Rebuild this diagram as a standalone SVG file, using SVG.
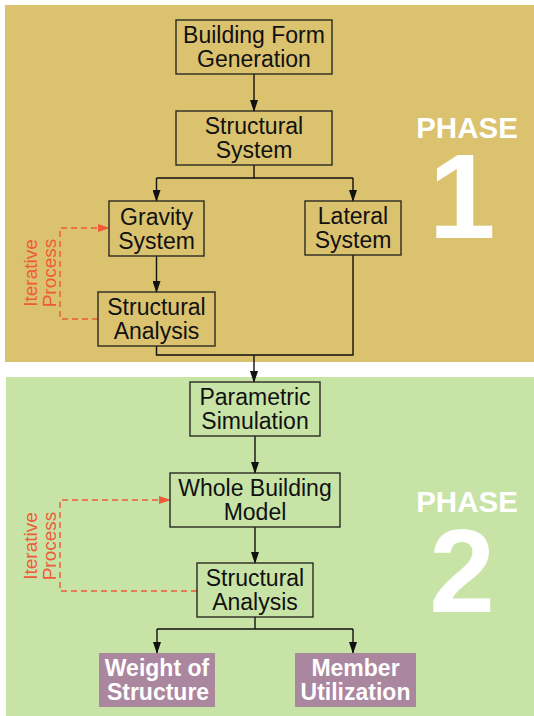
<svg xmlns="http://www.w3.org/2000/svg" width="534" height="716" viewBox="0 0 534 716">
<style>
.box{fill:none;stroke:#2a2a22;stroke-width:1.4}
.out{fill:#AB869F;stroke:none}
.t{font-family:"Liberation Sans",Arial,sans-serif;font-size:23px;fill:#111;text-anchor:middle}
.tw{font-family:"Liberation Sans",Arial,sans-serif;font-size:23px;font-weight:bold;fill:#fff;text-anchor:middle}
.ph{font-family:"Liberation Sans",Arial,sans-serif;font-weight:bold;fill:#fff;text-anchor:middle}
.it{font-family:"Liberation Sans",Arial,sans-serif;font-size:19px;fill:#EE5A3A;text-anchor:middle}
.c{fill:none;stroke:#111;stroke-width:1.4}
.d{fill:none;stroke:#EE5A3A;stroke-width:1.4;stroke-dasharray:6 4}
</style>
<defs>
<marker id="ab" markerWidth="8" markerHeight="12" refX="4" refY="11" orient="0" markerUnits="userSpaceOnUse" viewBox="0 0 8 12">
<path d="M0,0 L8,0 L4,12 Z" fill="#111"/>
</marker>
<marker id="ar" markerWidth="12" markerHeight="8" refX="11" refY="4" orient="0" markerUnits="userSpaceOnUse" viewBox="0 0 12 8">
<path d="M0,0 L12,4 L0,8 Z" fill="#EE5A3A"/>
</marker>
</defs>
<rect x="0" y="0" width="534" height="716" fill="#fff"/>
<rect id="phase1-bg" x="5" y="5" width="529" height="357" fill="#DBC26F"/>
<rect id="phase2-bg" x="6" y="377" width="528" height="339" fill="#C8E3A6"/>

<g id="phase1-label">
<text class="ph" x="467" y="138" font-size="29.5">PHASE</text>
<text class="ph" x="462" y="238" font-size="120">1</text>
</g>
<g id="phase2-label">
<text class="ph" x="467" y="512" font-size="29.5">PHASE</text>
<text class="ph" x="462" y="612" font-size="118">2</text>
</g>

<g id="connectors">
<path class="c" d="M254,74 V111" marker-end="url(#ab)"/>
<path class="c" d="M254,165 V178 M156.5,178 H353"/>
<path class="c" d="M156.5,178 V201" marker-end="url(#ab)"/>
<path class="c" d="M353,178 V201" marker-end="url(#ab)"/>
<path class="c" d="M156.5,256 V292" marker-end="url(#ab)"/>
<path class="c" d="M156.5,346 V355 H353 V255"/>
<path class="c" d="M254,355 V382" marker-end="url(#ab)"/>
<path class="c" d="M255,436 V473" marker-end="url(#ab)"/>
<path class="c" d="M255,527 V563" marker-end="url(#ab)"/>
<path class="c" d="M255,617 V629 M157,629 H353"/>
<path class="c" d="M157,629 V653" marker-end="url(#ab)"/>
<path class="c" d="M353,629 V653" marker-end="url(#ab)"/>
<path class="d" d="M98,319 H60 V228 H109" marker-end="url(#ar)"/>
<path class="d" d="M197,591 H60 V500 H170" marker-end="url(#ar)"/>
</g>

<g id="iter1">
<text class="it" transform="translate(37,273) rotate(-90)"><tspan x="0" y="0">Iterative</tspan><tspan x="0" y="19">Process</tspan></text>
</g>
<g id="iter2">
<text class="it" transform="translate(37,546) rotate(-90)"><tspan x="0" y="0">Iterative</tspan><tspan x="0" y="19">Process</tspan></text>
</g>

<g id="building-form">
<rect class="box" x="176" y="20" width="156" height="54"/>
<text class="t" x="254" y="43">Building Form</text>
<text class="t" x="254" y="67">Generation</text>
</g>
<g id="structural-system">
<rect class="box" x="176" y="111" width="156" height="54"/>
<text class="t" x="254" y="134">Structural</text>
<text class="t" x="254" y="158">System</text>
</g>
<g id="gravity-system">
<rect class="box" x="109" y="201" width="95" height="55"/>
<text class="t" x="156.5" y="225">Gravity</text>
<text class="t" x="156.5" y="249">System</text>
</g>
<g id="lateral-system">
<rect class="box" x="305" y="201" width="96" height="54"/>
<text class="t" x="353" y="224">Lateral</text>
<text class="t" x="353" y="248">System</text>
</g>
<g id="structural-analysis-1">
<rect class="box" x="98" y="292" width="117" height="54"/>
<text class="t" x="156.5" y="315">Structural</text>
<text class="t" x="156.5" y="339">Analysis</text>
</g>
<g id="parametric-simulation">
<rect class="box" x="190" y="382" width="130" height="54"/>
<text class="t" x="255" y="405">Parametric</text>
<text class="t" x="255" y="429">Simulation</text>
</g>
<g id="whole-building-model">
<rect class="box" x="170" y="473" width="170" height="54"/>
<text class="t" x="255" y="496">Whole Building</text>
<text class="t" x="255" y="520">Model</text>
</g>
<g id="structural-analysis-2">
<rect class="box" x="197" y="563" width="116" height="54"/>
<text class="t" x="255" y="586">Structural</text>
<text class="t" x="255" y="610">Analysis</text>
</g>
<g id="weight-of-structure">
<rect class="out" x="99" y="653" width="116" height="54"/>
<text class="tw" x="157" y="676">Weight of</text>
<text class="tw" x="158" y="700">Structure</text>
</g>
<g id="member-utilization">
<rect class="out" x="295" y="653" width="121" height="54"/>
<text class="tw" x="355.5" y="676">Member</text>
<text class="tw" x="355.5" y="700">Utilization</text>
</g>
</svg>
